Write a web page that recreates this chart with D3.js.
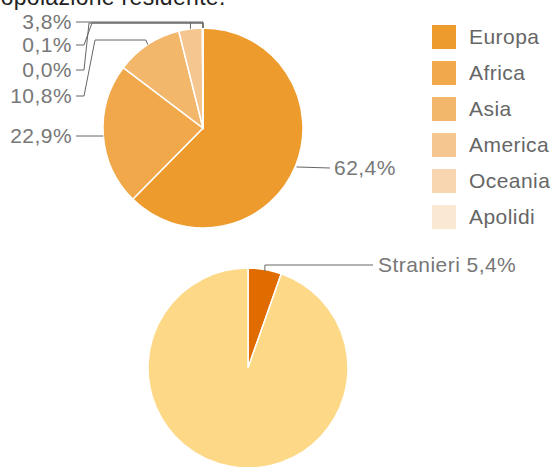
<!DOCTYPE html>
<html>
<head>
<meta charset="utf-8">
<script src="https://cdn.jsdelivr.net/npm/d3@7"></script>
<style>
  body { margin: 0; background: #fff; }
  svg { display: block; font-family: "Liberation Sans", Arial, sans-serif; }
  .lab { font-size: 21px; letter-spacing: 0.45px; }
</style>
</head>
<body>
<div id="chart"></div>
<script>
// dati
const continenti = ["Europa", "Africa", "Asia", "America", "Oceania", "Apolidi"];
const percContinenti = [62.4, 22.9, 10.8, 3.8, 0.1, 0.0];
const coloriContinenti = ["#ee9b2d", "#f0a84b", "#f2b76b", "#f5c68f", "#f8d7b0", "#fbe8d3"];
const gruppi = ["Stranieri", "Italiani"];
const percGruppi = [5.4, 94.6];
const coloriGruppi = ["#e06c00", "#fdd886"];

const width = 552, height = 467;
const fmt = v => v.toFixed(1).replace(".", ",") + "%";

const svg = d3.select("#chart").append("svg")
    .attr("width", width).attr("height", height);

// titolo (tagliato in alto)
svg.append("text")
    .attr("x", -15).attr("y", 5)
    .style("font-size", "23px").style("letter-spacing", "0.3px")
    .style("fill", "#222")
    .text("Popolazione residente.");

const r = 100;
const arc = d3.arc().innerRadius(0).outerRadius(r);
const pie = d3.pie().sort(null).value(d => d.v);

// torta 1
const g1 = svg.append("g").attr("transform", "translate(203,128)");
const dati1 = continenti.map((c, i) => ({ c, v: percContinenti[i], col: coloriContinenti[i] }));
const archi1 = pie(dati1);
g1.selectAll("path").data(archi1).enter().append("path")
    .attr("d", arc)
    .attr("fill", d => d.data.col)
    .attr("stroke", "#fff").attr("stroke-width", 1.5);

// punto di ancoraggio sul bordo
function bordo(a, cx, cy) {
    const ang = (a.startAngle + a.endAngle) / 2;
    return [cx + Math.sin(ang) * r, cy - Math.cos(ang) * r];
}

const labelY = { Europa: 168, Africa: 136, Asia: 96, America: 22, Oceania: 45, Apolidi: 70 };
const lineCol = "#666";
const labelCol = "#777";

archi1.forEach(a => {
    const nome = a.data.c;
    const p = bordo(a, 203, 128);
    const ly = labelY[nome];
    let pts, lx = 72, anchor = "end";
    if (nome === "Europa") {
        pts = [[p[0] + 1, p[1] + 1], [330, ly]];
        lx = 334; anchor = "start";
    } else if (nome === "Africa") {
        pts = [[76, ly], [p[0], ly]];
    } else if (nome === "Asia") {
        pts = [[76, ly], [84, ly], [95, 40], [p[0] - 2, 40], p];
    } else if (nome === "America") {
        pts = [[76, ly], [203, ly], [203, 28]];
        svg.append("polyline")
            .attr("points", [[p[0], ly], [p[0], p[1]]].join(" "))
            .attr("fill", "none").attr("stroke", lineCol).attr("stroke-width", 1);
    } else {
        const bx = nome === "Oceania" ? 92 : 89;
        pts = [[76, ly], [84, ly], [bx, 23], [203, 23], [203, 28]];
    }
    svg.append("polyline")
        .attr("points", pts.join(" "))
        .attr("fill", "none").attr("stroke", lineCol).attr("stroke-width", 1);
    svg.append("text")
        .attr("class", "lab")
        .attr("x", lx).attr("y", ly).attr("dy", "0.35em")
        .attr("text-anchor", anchor)
        .style("fill", labelCol)
        .text(fmt(a.data.v));
});

// legenda
const leg = svg.append("g").attr("transform", "translate(432,25)");
const voci = leg.selectAll("g").data(dati1).enter().append("g")
    .attr("transform", (d, i) => `translate(0,${i * 36})`);
voci.append("rect").attr("width", 24).attr("height", 24).attr("fill", d => d.col);
voci.append("text").attr("class", "lab")
    .attr("x", 37).attr("y", 12).attr("dy", "0.35em")
    .style("fill", "#666")
    .text(d => d.c);

// torta 2
const g2 = svg.append("g").attr("transform", "translate(248,368)");
const dati2 = gruppi.map((c, i) => ({ c, v: percGruppi[i], col: coloriGruppi[i] }));
const archi2 = pie(dati2);
g2.selectAll("path").data(archi2).enter().append("path")
    .attr("d", arc)
    .attr("fill", d => d.data.col)
    .attr("stroke", "#fff").attr("stroke-width", 1.5);

const ps = bordo(archi2[0], 248, 368);
svg.append("polyline")
    .attr("points", [[ps[0], ps[1] + 2], [ps[0], 265], [373, 265]].join(" "))
    .attr("fill", "none").attr("stroke", lineCol).attr("stroke-width", 1);
svg.append("text")
    .attr("class", "lab")
    .attr("x", 378).attr("y", 265).attr("dy", "0.35em")
    .style("fill", labelCol)
    .text(gruppi[0] + " " + fmt(percGruppi[0]));
</script>
</body>
</html>
